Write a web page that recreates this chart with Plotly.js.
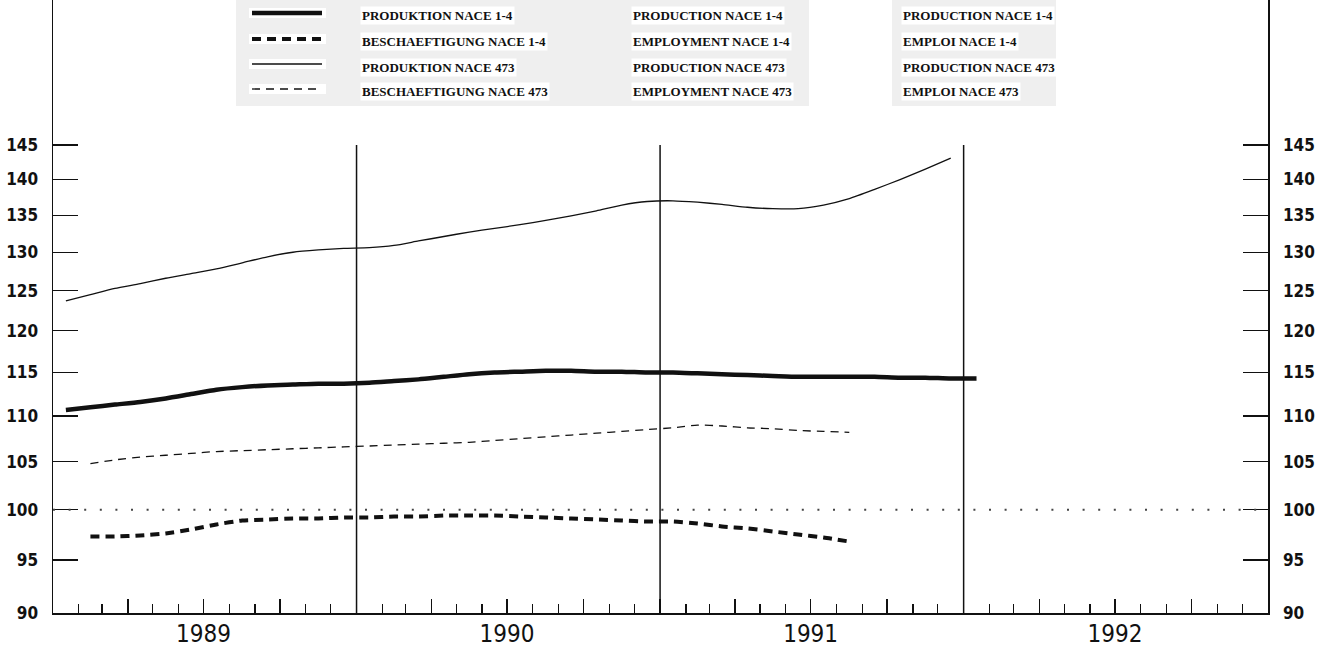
<!DOCTYPE html>
<html><head><meta charset="utf-8">
<script src="https://cdn.plot.ly/plotly-3.0.1.min.js"></script>
<style>html,body{margin:0;padding:0;background:#fff}#chart{width:1324px;height:650px}</style>
</head><body><div id="chart"></div>
<script>
// ---------- DATA ----------
const yearLabels = ['1989', '1990', '1991', '1992'];
const yTickVals = [90, 95, 100, 105, 110, 115, 120, 125, 130, 135, 140, 145];
const referenceLevel = 100;
const yearBoundaries = ['1990-01-01', '1991-01-01', '1992-01-01'];
const boundaryTop = 145;

// Production NACE 1-4 (monthly, Jan 1989 - Jan 1992)
const prod14Start = '1989-01';
const prod14 = [110.7, 111.0, 111.3, 111.6, 112.0, 112.5, 113.0, 113.3, 113.5, 113.6, 113.7, 113.7,
  113.8, 114.0, 114.2, 114.5, 114.8, 115.0, 115.1, 115.2, 115.2, 115.1, 115.1, 115.0,
  115.0, 114.9, 114.8, 114.7, 114.6, 114.5, 114.5, 114.5, 114.5, 114.4, 114.4, 114.3,
  114.3];
// Beschaeftigung / Employment NACE 1-4 (monthly, Feb 1989 - Aug 1991)
const emp14Start = '1989-02';
const emp14 = [97.3, 97.3, 97.4, 97.6, 98.0, 98.5, 98.9, 99.0, 99.1, 99.1, 99.2,
  99.2, 99.3, 99.3, 99.4, 99.4, 99.4, 99.3, 99.2, 99.1, 99.0, 98.9, 98.8,
  98.8, 98.6, 98.3, 98.1, 97.8, 97.5, 97.2, 96.8];
// Production NACE 473 (monthly, Jan 1989 - Dec 1991)
const prod473Start = '1989-01';
const prod473 = [123.7, 124.5, 125.3, 125.9, 126.6, 127.2, 127.8, 128.6, 129.4, 130.0, 130.3, 130.5,
  130.6, 130.9, 131.5, 132.1, 132.7, 133.2, 133.7, 134.3, 134.9, 135.6, 136.4, 136.9,
  137.0, 136.8, 136.5, 136.1, 135.9, 135.9, 136.4, 137.3, 138.6, 140.0, 141.5, 143.1];
// Employment NACE 473 (monthly, Feb 1989 - Aug 1991)
const emp473Start = '1989-02';
const emp473 = [104.8, 105.2, 105.5, 105.7, 105.9, 106.1, 106.2, 106.3, 106.4, 106.5, 106.6,
  106.7, 106.8, 106.9, 107.0, 107.1, 107.3, 107.5, 107.7, 107.9, 108.1, 108.3, 108.5,
  108.7, 109.0, 108.9, 108.7, 108.6, 108.4, 108.3, 108.2];

const legendDE = ['PRODUKTION NACE 1-4', 'BESCHAEFTIGUNG NACE 1-4', 'PRODUKTION NACE 473', 'BESCHAEFTIGUNG NACE 473'];
const legendEN = ['PRODUCTION NACE 1-4', 'EMPLOYMENT NACE 1-4', 'PRODUCTION NACE 473', 'EMPLOYMENT NACE 473'];
const legendFR = ['PRODUCTION NACE 1-4', 'EMPLOI NACE 1-4', 'PRODUCTION NACE 473', 'EMPLOI NACE 473'];

// ---------- HELPERS ----------
function monthSeq(start, n) {
  let [y, m] = start.split('-').map(Number);
  const out = [];
  for (let i = 0; i < n; i++) {
    out.push(y + '-' + String(m).padStart(2, '0'));
    m++; if (m > 12) { m = 1; y++; }
  }
  return out;
}
const quarterTicks = [], quarterText = [];
yearLabels.forEach((yr, i) => {
  ['01', '04', '07', '10'].forEach(mm => {
    if (i === 0 && mm === '01') return;
    quarterTicks.push(yr + '-' + mm + '-01');
    quarterText.push(mm === '07' ? yr : '');
  });
});

const styles = [
  {width: 4.5, dash: 'solid'},
  {width: 4, dash: '9px,6px'},
  {width: 1.3, dash: 'solid'},
  {width: 1.3, dash: '8px,6px'}
];
const seriesList = [
  {start: prod14Start, y: prod14, name: legendDE[0]},
  {start: emp14Start, y: emp14, name: legendDE[1]},
  {start: prod473Start, y: prod473, name: legendDE[2], yaxis: 'y2'},
  {start: emp473Start, y: emp473, name: legendDE[3]}
];

const traces = seriesList.map((s, i) => ({
  type: 'scatter', mode: 'lines', name: s.name,
  x: monthSeq(s.start, s.y.length), y: s.y,
  xperiod: 'M1', xperiodalignment: 'middle',
  yaxis: s.yaxis || 'y',
  line: {color: '#111', width: styles[i].width, dash: styles[i].dash, shape: 'spline', smoothing: 0.6},
  showlegend: false, hoverinfo: 'skip'
}));

// plot frame in px for legend placement
const L = 53, R = 56, T = 0, B = 37, W = 1324, H = 650;
const pw = W - L - R, ph = H - T - B;
const px = x => (x - L) / pw;
const py = y => 1 - (y - T) / ph;

const shapes = [];
const annotations = [];
// legend background
shapes.push({type: 'rect', xref: 'paper', yref: 'paper', x0: px(236), x1: px(809), y0: py(106), y1: py(0), fillcolor: '#efefef', line: {width: 0}, layer: 'below'});
shapes.push({type: 'rect', xref: 'paper', yref: 'paper', x0: px(892), x1: px(1056), y0: py(106), y1: py(0), fillcolor: '#efefef', line: {width: 0}, layer: 'below'});

const sampleY = [13, 39, 64, 89];
const textY = [15.5, 41.5, 67.5, 91.5];
const colX = [362, 633, 903];
styles.forEach((st, i) => {
  shapes.push({type: 'rect', xref: 'paper', yref: 'paper', x0: px(249), x1: px(326), y0: py(sampleY[i] + 5), y1: py(sampleY[i] - 5), fillcolor: '#fff', line: {width: 0}, layer: 'below'});
  shapes.push({type: 'line', xref: 'paper', yref: 'paper', x0: px(252), x1: px(322), y0: py(sampleY[i]), y1: py(sampleY[i]),
    line: {color: '#111', width: st.width, dash: st.dash}});
  [legendDE, legendEN, legendFR].forEach((arr, c) => {
    annotations.push({xref: 'paper', yref: 'paper', x: px(colX[c] - 2), y: py(textY[i]), xanchor: 'left', yanchor: 'middle',
      text: arr[i], showarrow: false, bgcolor: '#fff', borderpad: 1,
      font: {family: 'Liberation Serif', size: 13, color: '#111', weight: 'bold'}});
  });
});

// reference level dotted line
shapes.push({type: 'line', xref: 'paper', yref: 'y', x0: 0, x1: 1, y0: referenceLevel, y1: referenceLevel,
  line: {color: '#444', width: 2, dash: '2px,13.6px'}});
// year boundary lines
yearBoundaries.forEach(d => {
  shapes.push({type: 'line', xref: 'x', yref: 'y', x0: d, x1: d, y0: yTickVals[0], y1: boundaryTop,
    line: {color: '#111', width: 1.5}});
});

const yRange = [Math.log10(90), Math.log10(90) + ph / 2259];
const yCommon = {
  type: 'log', range: yRange, tickmode: 'array', tickvals: yTickVals, ticktext: yTickVals.map(String),
  ticks: 'inside', ticklen: 25, tickwidth: 1.3, tickcolor: '#111',
  showline: true, linecolor: '#111', linewidth: 1.5, showgrid: false, zeroline: false,
  ticklabelstandoff: 10,
  tickfont: {family: 'DejaVu Sans Condensed', size: 17, color: '#111', weight: 'bold'}
};

const layout = {
  width: W, height: H,
  margin: {l: L, r: R, t: T, b: B, pad: 0},
  paper_bgcolor: '#fff', plot_bgcolor: 'rgba(0,0,0,0)',
  showlegend: false,
  xaxis: {
    type: 'date', range: ['1989-01-01', '1993-01-01'],
    tickmode: 'array', tickvals: quarterTicks, ticktext: quarterText,
    ticks: 'inside', ticklen: 14, tickwidth: 1.3, tickcolor: '#111',
    minor: {tickmode: 'linear', tick0: '1989-01-01', dtick: 'M1', ticks: 'inside', ticklen: 9, tickwidth: 1.3, tickcolor: '#111', showgrid: false},
    showline: true, linecolor: '#111', linewidth: 1.5, showgrid: false, zeroline: false,
    ticklabelstandoff: -1,
    tickfont: {family: 'DejaVu Sans Condensed', size: 24, color: '#111'}
  },
  yaxis: Object.assign({}, yCommon, {side: 'left'}),
  yaxis2: Object.assign({}, yCommon, {side: 'right', overlaying: 'y', anchor: 'x'}),
  shapes: shapes,
  annotations: annotations
};

Plotly.newPlot('chart', traces, layout, {staticPlot: true, displayModeBar: false});
</script>
</body></html>
